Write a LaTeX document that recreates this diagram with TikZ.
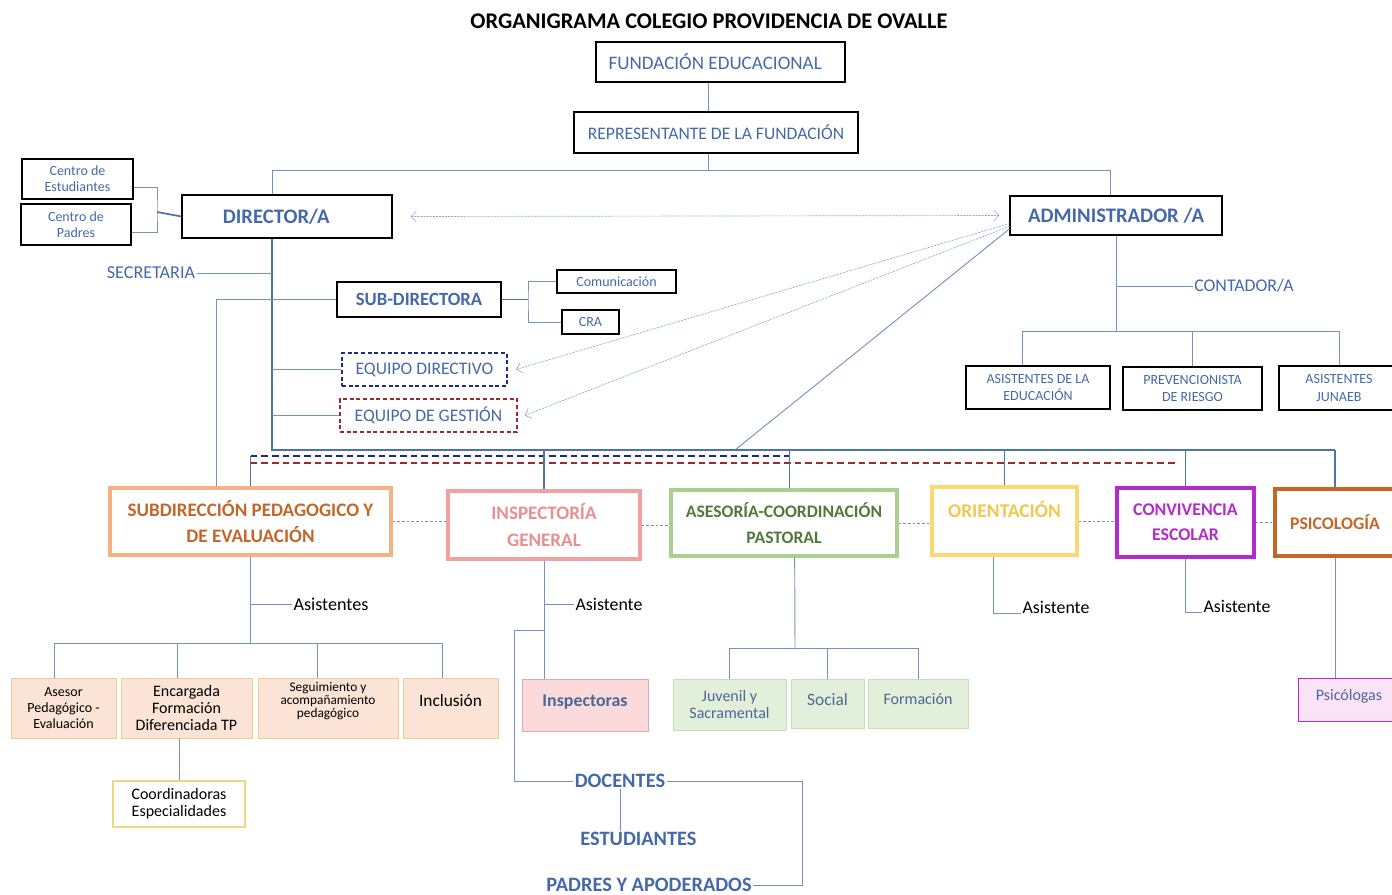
\documentclass[tikz,border=0pt]{standalone}
\usepackage{fontspec}
\setmainfont{Carlito}
\usetikzlibrary{arrows.meta}

\definecolor{txtblue}{HTML}{4569A8}
\definecolor{lnblue}{HTML}{7591BE}
\definecolor{trunk}{HTML}{4E72AA}
\definecolor{arrblue}{HTML}{8EAAD2}
\definecolor{navy}{HTML}{1E2A84}
\definecolor{darkred}{HTML}{9A2B2B}
\definecolor{orgorange}{HTML}{F4B183}
\definecolor{orgorangetxt}{HTML}{C4662A}
\definecolor{orgpink}{HTML}{F0A2A2}
\definecolor{orgpinktxt}{HTML}{E98F8F}
\definecolor{orggreen}{HTML}{A9D08E}
\definecolor{orggreentxt}{HTML}{52793A}
\definecolor{orgyellow}{HTML}{FBD870}
\definecolor{orgyellowtxt}{HTML}{F1C84E}
\definecolor{orgpurple}{HTML}{B42BCB}
\definecolor{orgbrown}{HTML}{C4662A}
\definecolor{peach}{HTML}{FBE4D5}
\definecolor{peachline}{HTML}{EBCF9A}
\definecolor{paleyellow}{HTML}{EDD97E}
\definecolor{mint}{HTML}{E2EFDA}
\definecolor{mintline}{HTML}{C6DFB4}
\definecolor{rose}{HTML}{FADADB}
\definecolor{roseline}{HTML}{E2AAAB}
\definecolor{lilac}{HTML}{FBE3F7}
\definecolor{slate}{HTML}{4D6796}

\tikzset{
  sz/.style 2 args={minimum width=#1*0.75pt, minimum height=#2*0.75pt},
  topbox/.style={draw=black, line width=0.8pt, inner sep=0pt, text=txtblue, align=center},
  teambox/.style={draw=#1, line width=1.5pt, dash pattern=on 3pt off 2pt, inner sep=0pt,
    text=txtblue, font=\fontsize{13.2}{15}\selectfont},
  deptbox/.style 2 args={draw=#1, text=#2, line width=2.3pt, inner sep=0pt, align=center,
    font=\fontsize{14.3}{20}\selectfont\bfseries},
  unitbox/.style 2 args={draw=#1, fill=#2, line width=0.7pt, inner sep=0pt, align=center},
  lbl/.style={inner sep=1pt},
  lnk/.style={draw=lnblue, line width=0.7pt},
  trunkln/.style={draw=trunk, line width=1.5pt},
  gapdash/.style={draw=lnblue, line width=0.6pt, dash pattern=on 2pt off 1.5pt},
  dotarrow/.style={draw=arrblue, line width=0.5pt, dash pattern=on 1.5pt off 0.8pt},
  reach/.style={-{Straight Barb[length=4pt,width=8pt]}},
  reachboth/.style={{Straight Barb[length=4pt,width=8pt]}-{Straight Barb[length=4pt,width=8pt]}}
}

\begin{document}
\begin{tikzpicture}[x=0.75pt, y=-0.75pt]
  \useasboundingbox (0,0) rectangle (1392,894);

  \node[font=\fontsize{16.8}{19}\selectfont\bfseries] (title) at (709,21) {ORGANIGRAMA COLEGIO PROVIDENCIA DE OVALLE};

  \node[topbox, sz={249}{40}, font=\fontsize{14.3}{16}\selectfont] (fund) at (720.5,62) {FUNDACIÓN EDUCACIONAL\hspace*{8pt}};
  \node[topbox, sz={284}{41}, font=\fontsize{13.2}{16}\selectfont] (rep) at (716,132.5) {REPRESENTANTE DE LA FUNDACIÓN};
  \node[topbox, sz={210}{43}, font=\fontsize{15.5}{18}\selectfont\bfseries] (dir) at (287,216.5) {DIRECTOR/A\hspace*{16pt}};
  \node[topbox, sz={212}{39}, font=\fontsize{15.5}{18}\selectfont\bfseries] (adm) at (1116,215.5) {ADMINISTRADOR /A};
  \node[topbox, sz={111}{40}, font=\fontsize{10.5}{12}\selectfont] (cest) at (77.5,179) {Centro de\\Estudiantes};
  \node[topbox, sz={110}{41}, font=\fontsize{10.5}{12}\selectfont] (cpad) at (76,224.5) {Centro de\\Padres};
  \node[lbl, text=txtblue, font=\fontsize{13.6}{15}\selectfont] (sec) at (151,273) {SECRETARIA};
  \node[topbox, sz={164}{35}, font=\fontsize{14}{16}\selectfont\bfseries] (subd) at (419,299.5) {SUB-DIRECTORA};
  \node[topbox, sz={119}{23}, font=\fontsize{10.5}{12}\selectfont] (com) at (616.5,281.5) {Comunicación};
  \node[topbox, sz={57}{24}, font=\fontsize{10.5}{12}\selectfont] (cra) at (590.5,322) {CRA};
  \node[teambox=navy, sz={165}{33}] (eqd) at (424.5,369.5) {EQUIPO DIRECTIVO};
  \node[teambox=darkred, sz={177}{33}] (eqg) at (428.5,415.5) {EQUIPO DE GESTIÓN};

  \node[lbl, text=txtblue, font=\fontsize{13.4}{15}\selectfont] (cont) at (1244,286) {CONTADOR/A};
  \node[topbox, sz={144}{43}, font=\fontsize{10.5}{13}\selectfont] (asied) at (1038,387.5) {ASISTENTES DE LA\\EDUCACIÓN};
  \node[topbox, sz={139}{43}, font=\fontsize{10.5}{13}\selectfont] (prev) at (1192.5,388.5) {PREVENCIONISTA\\DE RIESGO};
  \node[topbox, sz={120}{44}, font=\fontsize{10.5}{13}\selectfont] (jun) at (1339,388) {ASISTENTES\\JUNAEB};

  \node[deptbox={orgorange}{orgorangetxt}, sz={281}{67}] (spd) at (250.5,521.5) {SUBDIRECCIÓN PEDAGOGICO Y\\DE EVALUACIÓN};
  \node[deptbox={orgpink}{orgpinktxt}, sz={192}{68}] (ig) at (544,525) {INSPECTORÍA\\GENERAL};
  \node[deptbox={orggreen}{orggreentxt}, sz={226}{66}, font=\fontsize{13.2}{20}\selectfont\bfseries] (ase) at (784,523) {ASESORÍA-COORDINACIÓN\\PASTORAL};
  \node[deptbox={orgyellow}{orgyellowtxt}, sz={145}{68}, text height=10pt, text depth=16pt, font=\fontsize{14.6}{20}\selectfont\bfseries] (ori) at (1004.5,521) {ORIENTACIÓN};
  \node[deptbox={orgpurple}{orgpurple}, sz={137}{69}, font=\fontsize{13.4}{19}\selectfont\bfseries] (conv) at (1185.5,522.5) {CONVIVENCIA\\ESCOLAR};
  \node[deptbox={orgbrown}{orgbrown}, sz={120}{67}, font=\fontsize{13.3}{20}\selectfont\bfseries] (psi) at (1335,522.5) {PSICOLOGÍA};

  \node[lbl, font=\fontsize{13.6}{15}\selectfont] (asis1) at (331,604) {Asistentes};
  \node[unitbox={peachline}{peach}, sz={105}{60}, font=\fontsize{10.5}{12}\selectfont] (a1) at (63.5,708) {Asesor\\Pedagógico -\\Evaluación};
  \node[unitbox={peachline}{peach}, sz={131}{60}, font=\fontsize{12}{13}\selectfont] (a2) at (186.5,708) {Encargada\\Formación\\Diferenciada TP};
  \node[unitbox={peachline}{peach}, sz={140}{60}, font=\fontsize{10}{10}\selectfont, text depth=12pt] (a3) at (328,708) {Seguimiento y\\acompañamiento\\pedagógico};
  \node[unitbox={peachline}{peach}, sz={95}{60}, font=\fontsize{13}{15}\selectfont, text height=9pt, text depth=12pt] (a4) at (450.5,708) {Inclusión};
  \node[unitbox={paleyellow}{white}, sz={132}{46}, line width=0.9pt, font=\fontsize{12}{13}\selectfont] (cor) at (179,804) {Coordinadoras\\Especialidades};

  \node[lbl, font=\fontsize{13.4}{15}\selectfont] (asis2) at (609,604) {Asistente};
  \node[unitbox={roseline}{rose}, sz={126}{52}, text=slate, font=\fontsize{13.4}{15}\selectfont\bfseries, text height=9pt, text depth=7pt] (insp) at (585,705) {Inspectoras};

  \node[unitbox={mintline}{mint}, sz={113}{51}, text=slate, font=\fontsize{12}{13}\selectfont] (p1) at (729.5,704.5) {Juvenil y\\Sacramental};
  \node[unitbox={mintline}{mint}, sz={73}{49}, text=slate, font=\fontsize{13}{15}\selectfont, text height=9pt, text depth=6pt] (p2) at (827.5,703.5) {Social};
  \node[unitbox={mintline}{mint}, sz={100}{49}, text=slate, font=\fontsize{12}{14}\selectfont, text height=9pt, text depth=8pt] (p3) at (918,703.5) {Formación};

  \node[lbl, font=\fontsize{13.4}{15}\selectfont] (asis3) at (1056,607) {Asistente};
  \node[lbl, font=\fontsize{13.4}{15}\selectfont] (asis4) at (1237,606) {Asistente};
  \node[unitbox={orgpurple}{lilac}, sz={102}{43}, text=slate, font=\fontsize{12}{14}\selectfont, text height=9pt, text depth=7pt] (psl) at (1349,699.5) {Psicólogas};

  \node[lbl, text=txtblue, font=\fontsize{15.3}{17}\selectfont\bfseries] (doc) at (620,781) {DOCENTES};
  \node[lbl, text=txtblue, font=\fontsize{15.3}{17}\selectfont\bfseries] (est) at (638.5,839) {ESTUDIANTES};
  \node[lbl, text=txtblue, font=\fontsize{15.3}{17}\selectfont\bfseries] (pad) at (649,885) {PADRES Y APODERADOS};

  \coordinate (fj) at (708,170);
  \coordinate (topL) at (272,170);
  \coordinate (topR) at (1110,170);
  \coordinate (cj) at (157,212);
  \coordinate (tr) at (272,450);
  \coordinate (trR) at (1335,450);
  \coordinate (sp) at (216,299.5);
  \coordinate (sj) at (528,299.5);
  \coordinate (barA) at (735,450);
  \coordinate (aj) at (1116,331);
  \coordinate (ac) at (1116,286);
  \coordinate (dn1) at (250.5,456);
  \coordinate (dn2) at (790,456);
  \coordinate (dr1) at (250.5,463);
  \coordinate (dr2) at (1178,463);
  \coordinate (sb) at (250.5,643);
  \coordinate (ij) at (544,630);
  \coordinate (dj) at (514,630);
  \coordinate (dr) at (802,830);
  \coordinate (pj) at (795,648);

  \draw[lnk] (fund.south -| fj) -- (rep.north -| fj);
  \draw[lnk] (rep.south -| fj) -- (fj);
  \draw[lnk] (dir.north -| topL) -- (topL) -- (topR) -- (adm.north -| topR);
  \draw[lnk] ([yshift=-6pt]cest.east) -| (cj) |- ([yshift=-6pt]cpad.east);
  \draw[trunk, line width=1.3pt] (cj) -- (dir.west);
  \draw[dotarrow, reachboth] ([xshift=13.5pt]dir.east) -- ([xshift=-7.5pt]adm.west);
  \draw[dotarrow, reach] ([yshift=9pt]adm.south west) -- ([xshift=6pt]eqd.east);
  \draw[dotarrow, reach] ([yshift=7pt]adm.south west) -- ([xshift=5pt]eqg.east);
  \draw[lnk] ([yshift=5pt]adm.south west) -- (barA);

  \draw[trunkln] (dir.south -| tr) -- (tr) -- (trR);
  \draw[lnk] (sec.east) -- (sec.east -| tr);
  \draw[lnk] (subd.west) -- (sp) -- (sp |- spd.north);
  \draw[trunk, line width=1.3pt] (subd.east) -- (sj);
  \draw[lnk] (com.west) -| (sj) |- (cra.west);
  \draw[lnk] (eqd.west) -- (eqd.west -| tr);
  \draw[lnk] (eqg.west) -- (eqg.west -| tr);

  \draw[lnk] (adm.south) -- (aj);
  \draw[lnk] (ac) -- (cont.west);
  \draw[lnk] ([xshift=-12pt]asied.north) |- (aj) -| (jun.north);
  \draw[lnk] (prev.north |- aj) -- (prev.north);

  \draw[navy, line width=1.6pt, dash pattern=on 5pt off 3pt] (dn1) -- (dn2);
  \draw[darkred, line width=1.6pt, dash pattern=on 5pt off 3pt] (dr1) -- (dr2);
  \draw[trunk, line width=1.2pt] (dn1) -- (spd.north);
  \draw[trunk, line width=1.2pt] (ig.north |- tr) -- (ig.north);
  \draw[trunk, line width=1.2pt] ([xshift=4pt]ase.north |- tr) -- ([xshift=4pt]ase.north);
  \draw[trunk, line width=1.2pt] (ori.north |- tr) -- (ori.north);
  \draw[trunk, line width=1.2pt] (conv.north |- tr) -- (conv.north);
  \draw[trunk, line width=1.2pt] (psi.north |- tr) -- (psi.north);

  \draw[gapdash] (spd.east) -- (spd.east -| ig.west);
  \draw[gapdash] (ig.east) -- (ig.east -| ase.west);
  \draw[gapdash] (ase.east) -- (ase.east -| ori.west);
  \draw[gapdash] (ori.east) -- (ori.east -| conv.west);
  \draw[gapdash] (conv.east) -- (conv.east -| psi.west);

  \draw[lnk] (spd.south) -- (sb);
  \draw[lnk] (spd.south |- asis1.west) -- (asis1.west);
  \draw[lnk] ([xshift=-7pt]a1.north) |- (sb) -| ([xshift=-6pt]a4.north);
  \draw[lnk] ([xshift=-7pt]a2.north) |- (sb);
  \draw[lnk] ([xshift=-8pt]a3.north) |- (sb);
  \draw[lnk] (cor.north) -- (cor.north |- a2.south);

  \draw[lnk] (ig.south) -- (ig.south |- insp.north);
  \draw[lnk] (ig.south |- asis2.west) -- (asis2.west);
  \draw[lnk] (ij) -- (dj) |- (doc.west);
  \draw[lnk] (doc.east) -| (dr) |- (pad.east);
  \draw[lnk] (doc.south) -- (doc.south |- est.north);

  \draw[lnk] ([xshift=8pt]ase.south) -- (pj);
  \draw[lnk] (p1.north) |- (pj) -| (p3.north);
  \draw[lnk] (p2.north) |- (pj);

  \draw[lnk] ([xshift=-8pt]ori.south) |- (asis3.base west);
  \draw[lnk] (conv.south) |- (asis4.base west);
  \draw[lnk] (psi.south) -- (psi.south |- psl.north);
\end{tikzpicture}
\end{document}
